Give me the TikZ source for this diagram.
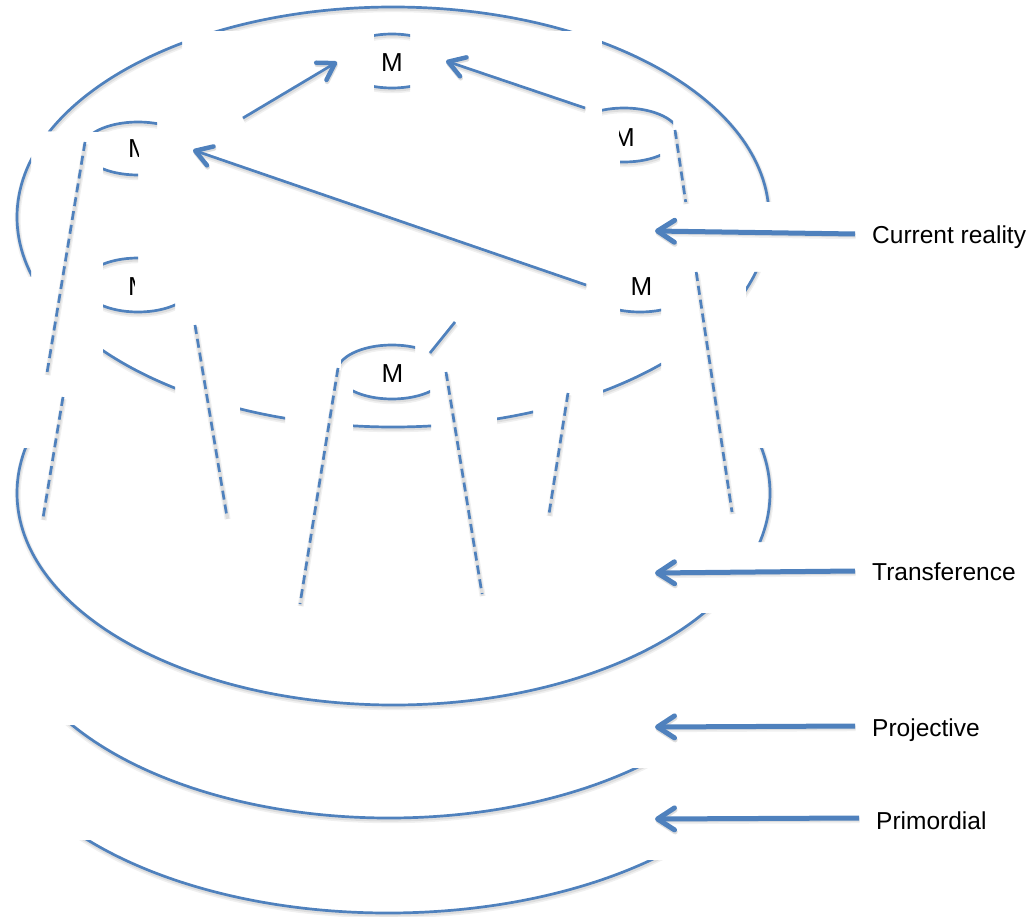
\documentclass[tikz,border=0pt]{standalone}
\usepackage{fontspec}
\setmainfont{Liberation Sans}
\usetikzlibrary{arrows.meta}
\definecolor{ob}{HTML}{4F81BD}
\tikzset{
  shade/.style={preaction={draw=black, draw opacity=0.06, line width=6pt, transform canvas={shift={(0.6,2.2)}}},
                preaction={draw=black, draw opacity=0.08, line width=3.5pt, transform canvas={shift={(0.6,1.8)}}}},
  solidline/.style={draw=ob, line width=2.7pt, shade},
  dashline/.style={draw=ob, line width=2.7pt, dash pattern=on 9pt off 5pt, shade},
  linkarrow/.style={draw=ob, line width=2.7pt, shade, -{Straight Barb[length=16pt,width=20pt,line width=4.5pt,round]}},
  labelarrow/.style={draw=ob, line width=5pt, shade, -{Straight Barb[length=17pt,width=22pt,line width=5pt,round]}},
  mtext/.style={inner sep=0pt, anchor=base, font=\fontsize{26pt}{30pt}\selectfont},
  ltext/.style={inner sep=0pt, anchor=base west, font=\fontsize{24.5pt}{29pt}\selectfont},
}
\begin{document}
\begin{tikzpicture}[x=1pt,y=-1pt]
\useasboundingbox (0,0) rectangle (1033,917);
% ---------- big ellipses ----------
\begin{scope}
  \clip (0,0) rectangle (182,131.5)
        (182,0) rectangle (602,31)
        (602,0) rectangle (1033,202)
        (0,131.5) rectangle (31,277)
        (746,272) rectangle (1033,300)
        (103,300) rectangle (175,450)
        (240,380) rectangle (285,450)
        (353,380) rectangle (431,450)
        (497,380) rectangle (533,450)
        (603,300) rectangle (661,450);
  \draw[solidline] (393,217) ellipse [x radius=376, y radius=210];
\end{scope}
\begin{scope}
  \clip (0,448) rectangle (650,917)
        (650,448) rectangle (1033,542)
        (650,613) rectangle (1033,917);
  \draw[solidline] (393.5,493) ellipse [x radius=376.5, y radius=212];
\end{scope}
\begin{scope}
  \clip (0,725) rectangle (392,917) (392,768) rectangle (1033,917);
  \draw[solidline] (389,606) ellipse [x radius=383, y radius=212];
\end{scope}
\begin{scope}
  \clip (0,840) rectangle (392,917) (392,860) rectangle (1033,917);
  \draw[solidline] (388,698) ellipse [x radius=400, y radius=215];
\end{scope}
% ---------- M nodes ----------
% top
\node[mtext] (mtop) at (392,71.5) {M};
\begin{scope}
  \clip (374,0) rectangle (410,917);
  \draw[solidline] (392,61) ellipse [x radius=55, y radius=27];
\end{scope}
% left top
\begin{scope}
  \clip (0,0) rectangle (157,132);
  \draw[solidline] (138,148.5) ellipse [x radius=55, y radius=26.5];
\end{scope}
\begin{scope}
  \clip (103,150) rectangle (138,200);
  \draw[solidline] (138,148.5) ellipse [x radius=55, y radius=26.5];
\end{scope}
\begin{scope}
  \clip (0,100) rectangle (138.5,200);
  \node[mtext] (mlt) at (139,158) {M};
\end{scope}
% left middle
\begin{scope}
  \clip (103,240) rectangle (138,285);
  \draw[solidline] (138,285) ellipse [x radius=55, y radius=27];
\end{scope}
\begin{scope}
  \clip (103,285) rectangle (175,330);
  \draw[solidline] (138,285) ellipse [x radius=55, y radius=27];
\end{scope}
\begin{scope}
  \clip (0,250) rectangle (134,320);
  \node[mtext] (mlm) at (139,295) {M};
\end{scope}
% right top
\begin{scope}
  \clip (602,90) rectangle (673,135);
  \draw[solidline] (624,135) ellipse [x radius=55, y radius=27];
\end{scope}
\begin{scope}
  \clip (620,135) rectangle (660,180);
  \draw[solidline] (624,135) ellipse [x radius=55, y radius=27];
\end{scope}
\begin{scope}
  \clip (619,100) rectangle (700,170);
  \node[mtext] (mrt) at (624,146.5) {M};
\end{scope}
% right middle
\node[mtext] (mrm) at (641.5,295) {M};
\begin{scope}
  \clip (620,286) rectangle (661,330);
  \draw[solidline] (640,286) ellipse [x radius=55, y radius=26];
\end{scope}
% bottom
\node[mtext] (mbot) at (392.5,382) {M};
\begin{scope}
  \clip (341,330) rectangle (415,372);
  \draw[solidline] (392,372) ellipse [x radius=55, y radius=27];
\end{scope}
\begin{scope}
  \clip (353,372) rectangle (430,420);
  \draw[solidline] (392,372) ellipse [x radius=55, y radius=27];
\end{scope}
% ---------- dashed lines ----------
\coordinate (d1a) at (85,142);  \coordinate (d1b) at (47,373);
\coordinate (d2a) at (63,397);  \coordinate (d2b) at (43,518);
\coordinate (d3a) at (195,325); \coordinate (d3b) at (227,517);
\coordinate (d4a) at (338,368); \coordinate (d4b) at (300,604);
\coordinate (d5a) at (446,372); \coordinate (d5b) at (482,594);
\coordinate (d6a) at (568,393); \coordinate (d6b) at (549,514);
\coordinate (d7a) at (675,130); \coordinate (d7b) at (685.7,202);
\coordinate (d7c) at (696.2,272); \coordinate (d7d) at (732,512);
\draw[dashline] (d1a) -- (d1b);
\draw[dashline] (d2a) -- (d2b);
\draw[dashline] (d3a) -- (d3b);
\draw[dashline] (d4a) -- (d4b);
\draw[dashline] (d5a) -- (d5b);
\draw[dashline] (d6a) -- (d6b);
\draw[dashline] (d7a) -- (d7b);
\draw[dashline] (d7c) -- (d7d);
% ---------- link arrows ----------
\coordinate (a1s) at (243,118); \coordinate (a1e) at (337,62);
\coordinate (a2s) at (585,108); \coordinate (a2e) at (446,61);
\coordinate (a3s) at (586,285); \coordinate (a3e) at (193,150);
\coordinate (a4s) at (430,353); \coordinate (a4e) at (455,322);
\draw[linkarrow] (a1s) -- (a1e);
\draw[linkarrow] (a2s) -- (a2e);
\draw[linkarrow] (a3s) -- (a3e);
\draw[solidline] (a4s) -- (a4e);
% ---------- labels ----------
\node[ltext] (lcur) at (872,244) {Current reality};
\node[ltext] (ltra) at (872,580.5) {Transference};
\node[ltext] (lpro) at (872,736) {Projective};
\node[ltext] (lpri) at (876,829) {Primordial};
\coordinate (t1) at (655,231); \coordinate (t2) at (655,573);
\coordinate (t3) at (655,727); \coordinate (t4) at (655,819);
\draw[labelarrow] (lcur.west |- 0,234) ++(-17,0) -- (t1);
\draw[labelarrow] (ltra.west |- 0,571) ++(-17,0) -- (t2);
\draw[labelarrow] (lpro.west |- 0,726) ++(-17,0) -- (t3);
\draw[labelarrow] (lpri.west |- 0,818) ++(-17,0) -- (t4);
\end{tikzpicture}
\end{document}
